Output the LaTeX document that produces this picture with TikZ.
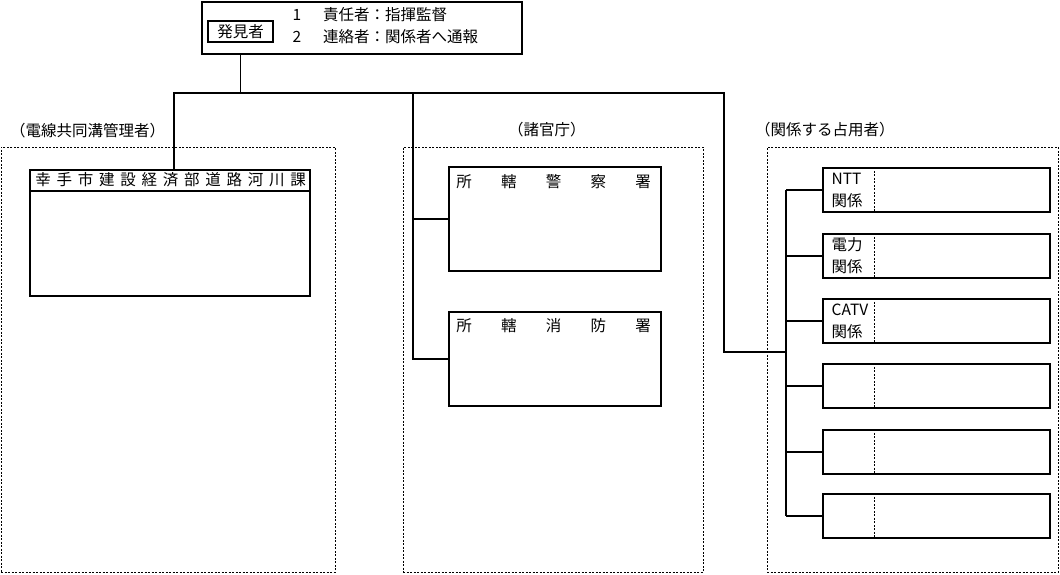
\documentclass[tikz,border=0pt]{standalone}
\usepackage{fontspec}
\setmainfont{Noto Sans CJK JP}
\usetikzlibrary{positioning}
\tikzset{
  solidbox/.style={draw, line width=1.1pt, inner sep=0pt},
  dotbox/.style={draw, line width=0.8pt, dash pattern=on 2pt off 1.5pt, inner sep=0pt},
  dotline/.style={line width=0.8pt, dash pattern=on 2pt off 1.5pt},
  wire/.style={line width=1.1pt},
  plain/.style={inner sep=0pt}
}
\begin{document}
\begin{tikzpicture}[x=1pt, y=-1pt, font=\fontsize{15.5}{22}\selectfont]
  \useasboundingbox (0,0) rectangle (1060,574);
  % reporter box
  \node[solidbox, minimum width=320pt, minimum height=52pt] (topbox) at (362,28) {};
  \node[solidbox, minimum width=65pt, minimum height=21pt] (hakken) at (240.5,31.5) {発見者};
  \node[plain] (n1) at (297,15) {1};
  \node[plain, anchor=west] (t1) at (323,15) {責任者：指揮監督};
  \node[plain] (n2) at (297,37) {2};
  \node[plain, anchor=west] (t2) at (323,37) {連絡者：関係者へ通報};
  % groups
  \node[dotbox, minimum width=334pt, minimum height=425pt] (grpl) at (168,359.5) {};
  \node[dotbox, minimum width=300pt, minimum height=425pt] (grpm) at (553,359.5) {};
  \node[dotbox, minimum width=291pt, minimum height=425pt] (grpr) at (912.5,359.5) {};
  \node[plain, anchor=west] (labl) at (10,131) {（電線共同溝管理者）};
  \node[plain, anchor=west] (labm) at (508,130) {（諸官庁）};
  \node[plain, anchor=west] (labr) at (755,130) {（関係する占用者）};
  % city office
  \node[solidbox, minimum width=280pt, minimum height=126pt] (kasen) at (170,233) {};
  \coordinate (hdline) at (0,191);
  \draw[wire] (kasen.west |- hdline) -- (kasen.east |- hdline);
  \foreach \c [count=\i from 0] in {幸,手,市,建,設,経,済,部,道,路,河,川,課}
    \node[plain] (hd\i) at (43+21.25*\i,180) {\c};
  % police and fire
  \node[solidbox, minimum width=212pt, minimum height=104pt] (police) at (555,219) {};
  \node[solidbox, minimum width=212pt, minimum height=94pt] (fire) at (555,359) {};
  \foreach \c [count=\i from 0] in {所,轄,警,察,署}
    \node[plain] (ps\i) at (464+44.75*\i,182) {\c};
  \foreach \c [count=\i from 0] in {所,轄,消,防,署}
    \node[plain] (fs\i) at (464+44.75*\i,326) {\c};
  % occupants
  \coordinate (div) at (874,0);
  \coordinate (bus) at (786,0);
  \foreach \y [count=\i] in {190,256,321,386,452,516} {
    \node[solidbox, minimum width=227pt, minimum height=44pt] (row\i) at (936.5,\y) {};
    \draw[dotline] (row\i.north -| div) -- (row\i.south -| div);
    \draw[wire] (row\i.west -| bus) -- (row\i.west);
  }
  \node[plain, anchor=west, align=left] (occ1) at ([xshift=9pt]row1.west) {NTT\\関係};
  \node[plain, anchor=west, align=left] (occ2) at ([xshift=9pt]row2.west) {電力\\関係};
  \node[plain, anchor=west, align=left] (occ3) at ([xshift=9pt]row3.west) {CATV\\関係};
  \draw[wire] (row1.west -| bus) -- (row6.west -| bus);
  % trunk lines
  \coordinate (jl) at (174,93);
  \coordinate (jm) at (413,93);
  \coordinate (jr) at (724,93);
  \coordinate (feed) at (786,352);
  \draw[wire] (hakken |- topbox.south) -- (hakken |- jl);
  \draw[wire] (jl |- kasen.north) -- (jl) -- (jr) |- (feed);
  \draw[wire] (jm) |- (fire.west);
  \draw[wire] (police.west -| jm) -- (police.west);
\end{tikzpicture}
\end{document}
